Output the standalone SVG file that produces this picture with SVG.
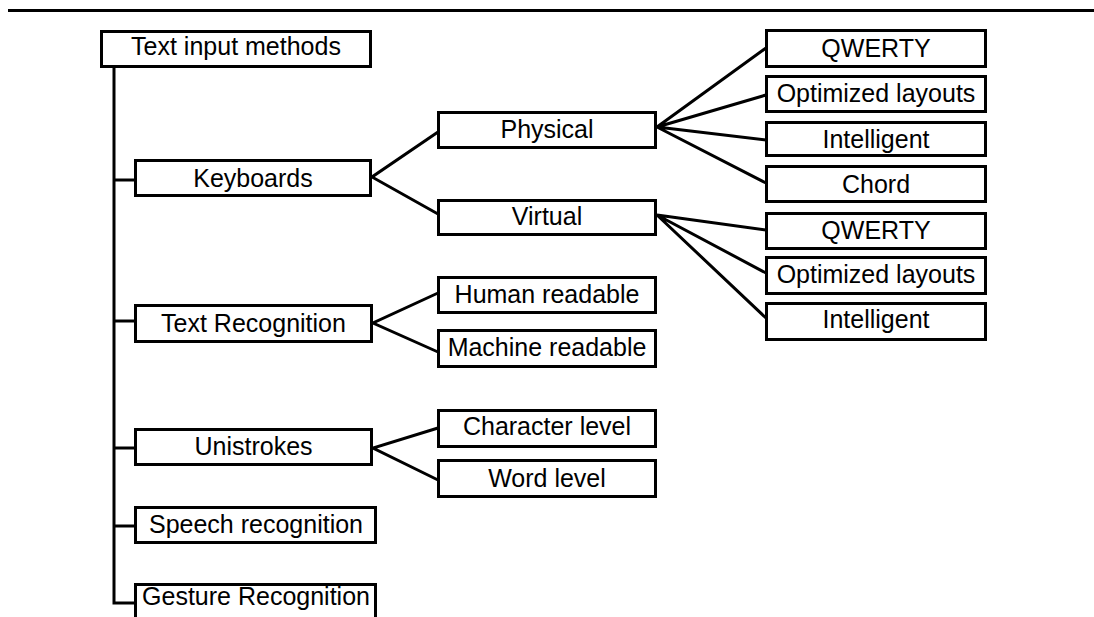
<svg xmlns="http://www.w3.org/2000/svg" width="1094" height="617" viewBox="0 0 1094 617">
<style>
rect.box{fill:#fff;stroke:#000;stroke-width:3}
text{font-family:"Liberation Sans",Arial,sans-serif;font-size:25px;fill:#000;text-anchor:middle}
.c path{fill:none;stroke:#000;stroke-width:3}
</style>
<rect width="1094" height="617" fill="#fff"/>
<path d="M8,10.5 H1094" stroke="#000" stroke-width="3"/>
<g class="c" id="connectors">
<path d="M114,68 V603 H135"/>
<path d="M114,180 H135"/>
<path d="M114,321 H135"/>
<path d="M114,448 H135"/>
<path d="M114,526 H135"/>
<path d="M438,132 L372,177 L438,214"/>
<path d="M766,48 L657,127 L766,95 M657,127 L766,140 M657,127 L766,183"/>
<path d="M766,230 L657,215 L766,273 M657,215 L766,318"/>
<path d="M438,293 L373,323 L438,352"/>
<path d="M438,428 L373,448 L438,480"/>
</g>
<g id="n-root"><rect class="box" x="101.5" y="31.5" width="269" height="35"/><text x="236" y="55">Text input methods</text></g>
<g id="n-keyboards"><rect class="box" x="135.5" y="160.5" width="235" height="35"/><text x="253" y="187">Keyboards</text></g>
<g id="n-textrec"><rect class="box" x="135.5" y="305.5" width="236" height="36"/><text x="253.5" y="332">Text Recognition</text></g>
<g id="n-unistrokes"><rect class="box" x="135.5" y="429.5" width="236" height="35"/><text x="253.5" y="455">Unistrokes</text></g>
<g id="n-speech"><rect class="box" x="135.5" y="507.5" width="240" height="35"/><text x="256" y="533">Speech recognition</text></g>
<g id="n-gesture"><rect class="box" x="135.5" y="584.5" width="240" height="42"/><text x="256" y="605">Gesture Recognition</text></g>
<g id="n-physical"><rect class="box" x="438.5" y="112.5" width="217" height="35"/><text x="547" y="138">Physical</text></g>
<g id="n-virtual"><rect class="box" x="438.5" y="200.5" width="217" height="34"/><text x="547" y="225">Virtual</text></g>
<g id="n-human"><rect class="box" x="438.5" y="277.5" width="217" height="35"/><text x="547" y="303">Human readable</text></g>
<g id="n-machine"><rect class="box" x="438.5" y="330.5" width="217" height="36"/><text x="547" y="356">Machine readable</text></g>
<g id="n-character"><rect class="box" x="438.5" y="410.5" width="217" height="36"/><text x="547" y="435">Character level</text></g>
<g id="n-word"><rect class="box" x="438.5" y="460.5" width="217" height="36"/><text x="547" y="487">Word level</text></g>
<g id="n-p-qwerty"><rect class="box" x="766.5" y="30.5" width="219" height="36"/><text x="876" y="57">QWERTY</text></g>
<g id="n-p-optimized"><rect class="box" x="766.5" y="76.5" width="219" height="35"/><text x="876" y="102">Optimized layouts</text></g>
<g id="n-p-intelligent"><rect class="box" x="766.5" y="122.5" width="219" height="33"/><text x="876" y="148">Intelligent</text></g>
<g id="n-p-chord"><rect class="box" x="766.5" y="166.5" width="219" height="35"/><text x="876" y="193">Chord</text></g>
<g id="n-v-qwerty"><rect class="box" x="766.5" y="213.5" width="219" height="35"/><text x="876" y="239">QWERTY</text></g>
<g id="n-v-optimized"><rect class="box" x="766.5" y="257.5" width="219" height="36"/><text x="876" y="283">Optimized layouts</text></g>
<g id="n-v-intelligent"><rect class="box" x="766.5" y="303.5" width="219" height="36"/><text x="876" y="328">Intelligent</text></g>
</svg>
